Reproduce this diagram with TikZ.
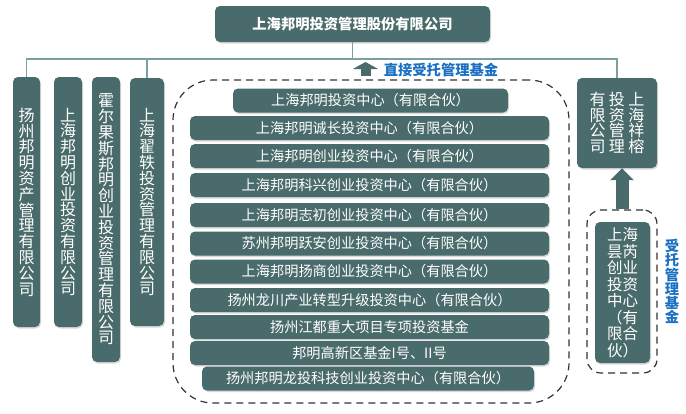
\documentclass[tikz,border=0pt]{standalone}
\usepackage{fontspec}
\setmainfont{Noto Sans CJK SC}
\usetikzlibrary{arrows.meta,shadows}
\definecolor{boxc}{HTML}{4A6B6B}
\definecolor{linec}{HTML}{7AA0A0}
\definecolor{bluec}{HTML}{1B70C2}
\definecolor{dashc}{HTML}{333333}
\begin{document}
\begin{tikzpicture}[x=1pt,y=-1pt,
  box/.style={fill=boxc, rounded corners=5pt, text=white, inner sep=0pt,
    drop shadow={shadow xshift=1pt,shadow yshift=-1.5pt,opacity=0.3}},
  vbox/.style={box, font=\fontsize{16}{15.8}\selectfont, align=center},
  rowbox/.style={box, minimum height=24pt, font=\fontsize{14.2}{16}\selectfont},
  link/.style={draw=linec, line width=1.2pt},
  region/.style={draw=dashc, line width=1.2pt, dash pattern=on 7pt off 5pt},
  blockarrow/.style={draw=boxc}
]
\useasboundingbox (0,0) rectangle (686,413);

% top company
\node[box, minimum width=275pt, minimum height=36pt, font=\fontsize{14.3}{16}\selectfont\bfseries] (top) at (352.5,24) {上海邦明投资管理股份有限公司};

% vertical subsidiaries
\node[vbox, minimum width=27pt, minimum height=250pt] (b1) at (26.5,202) {扬\\州\\邦\\明\\资\\产\\管\\理\\有\\限\\公\\司};
\node[vbox, minimum width=28pt, minimum height=250pt] (b2) at (68,202) {上\\海\\邦\\明\\创\\业\\投\\资\\有\\限\\公\\司};
\node[vbox, minimum width=28pt, minimum height=285pt] (b3) at (106,219.5) {霍\\尔\\果\\斯\\邦\\明\\创\\业\\投\\资\\管\\理\\有\\限\\公\\司};
\node[vbox, minimum width=34pt, minimum height=248pt] (b4) at (147,202) {上\\海\\翟\\轶\\投\\资\\管\\理\\有\\限\\公\\司};

% right company
\node[box, minimum width=80pt, minimum height=90pt, font=\fontsize{16}{15.5}\selectfont, align=center] (rb) at (617,123)
  {有\hspace{3.5pt}投\hspace{3.5pt}上\\限\hspace{3.5pt}资\hspace{3.5pt}海\\公\hspace{3.5pt}管\hspace{3.5pt}祥\\司\hspace{3.5pt}理\hspace{3.5pt}榕};

% bus lines
\coordinate (bus) at (0,59);
\draw[link] (b1.north) -- (b1.north |- bus) -- (rb.north |- bus) -- (rb.north);
\draw[link] (top.south) -- (top.south |- bus);
\draw[link] (b4.north) -- (b4.north |- bus);

% dashed region of directly managed funds
\node[region, rounded corners=40pt, minimum width=396pt, minimum height=323pt] (dr) at (371,241.5) {};

% label with arrow
\node[font=\fontsize{14.3}{16}\selectfont\bfseries, text=bluec] (lbl1) at (441,69.5) {直接受托管理基金};
\coordinate (ua) at (365.5,76);
\coordinate (ub) at (365.5,62);
\draw[blockarrow, line width=10pt, -{Triangle[width=25pt,length=7pt]}] (ua) -- (ub);

% funds
\node[rowbox, minimum width=275pt] (f1) at (370.5,100.5) {上海邦明投资中心（有限合伙）};
\node[rowbox, minimum width=359pt] (f2) at (369.5,128) {上海邦明诚长投资中心（有限合伙）};
\node[rowbox, minimum width=359pt] (f3) at (369.5,156) {上海邦明创业投资中心（有限合伙）};
\node[rowbox, minimum width=359pt] (f4) at (369.5,185) {上海邦明科兴创业投资中心（有限合伙）};
\node[rowbox, minimum width=359pt] (f5) at (369.5,215) {上海邦明志初创业投资中心（有限合伙）};
\node[rowbox, minimum width=359pt] (f6) at (369.5,243.5) {苏州邦明跃安创业投资中心（有限合伙）};
\node[rowbox, minimum width=359pt] (f7) at (369.5,271.5) {上海邦明扬商创业投资中心（有限合伙）};
\node[rowbox, minimum width=359pt] (f8) at (369.5,300) {扬州龙川产业转型升级投资中心（有限合伙）};
\node[rowbox, minimum width=359pt] (f9) at (369.5,327) {扬州江都重大项目专项投资基金};
\node[rowbox, minimum width=359pt] (f10) at (369.5,353) {邦明高新区基金I号、II号};
\node[rowbox, minimum width=332pt] (f11) at (368,378.5) {扬州邦明龙投科技创业投资中心（有限合伙）};

% entrusted fund
\node[region, rounded corners=14pt, minimum width=70pt, minimum height=163pt] (rd) at (622,291.5) {};
\node[box, minimum width=55pt, minimum height=141pt, font=\fontsize{15.5}{16.5}\selectfont, align=center] (rin) at (622.5,292.5)
  {上海\\昙芮\\创业\\投资\\中心\\（有\\限合\\伙）};
\node[font=\fontsize{14.3}{14.2}\selectfont\bfseries, text=bluec, align=center] (lbl2) at (672,281.5) {受\\托\\管\\理\\基\\金};
\draw[blockarrow, line width=13pt, -{Triangle[width=23pt,length=12pt]}] (rd.north) -- (rd.north |- rb.south);
\end{tikzpicture}
\end{document}
